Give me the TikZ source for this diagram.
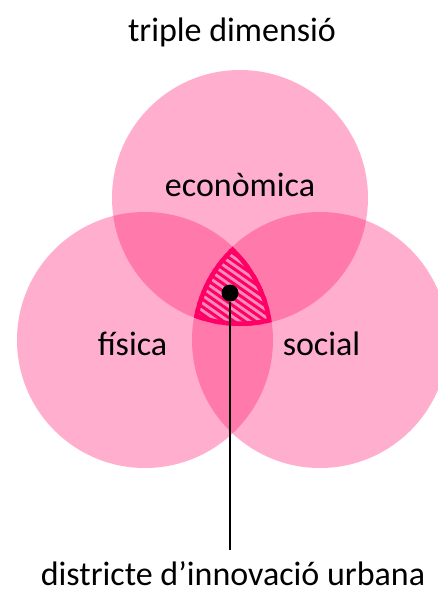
\documentclass[tikz,border=0pt]{standalone}
\usepackage{fontspec}
\setmainfont{Carlito}
\usepackage{xcolor}
\usetikzlibrary{calc, positioning}
\definecolor{vennPink}{RGB}{255,18,107}
\definecolor{deepPink}{RGB}{255,0,102}
\definecolor{stripePink}{RGB}{255,140,184}
\tikzset{
    dim/.style={circle, fill=vennPink, fill opacity=0.34, minimum size=256pt, inner sep=0pt},
    tag/.style={font=\fontsize{34}{40}\selectfont, inner sep=0pt, anchor=base},
    hub/.style={circle, fill=black, minimum size=17pt, inner sep=0pt},
    stem/.style={line width=1.6pt},
    stripe/.style={deepPink, line width=3pt},
    rim/.style={deepPink, line width=9pt}
}

\begin{document}
\begin{tikzpicture}[x=1pt, y=-1pt]
    \useasboundingbox (0,0) rectangle (438,591);

    \node[dim] (Eco) at (240,198) {};
    \node[dim] (Fis) at (145,340) {};
    \node[dim] (Soc) at (320,340) {};

    % common core of the three circles
    \begin{scope}
        \clip (Eco.center) circle (128pt);
        \clip (Fis.center) circle (128pt);
        \clip (Soc.center) circle (128pt);
        \fill[stripePink] (150,220) rectangle (320,340);
        \foreach \k in {0,...,26}
            \draw[stripe] (150,150+7.5*\k) -- ++(200,140);
        \draw[rim] (Eco.center) circle (128pt) (Fis.center) circle (128pt) (Soc.center) circle (128pt);
    \end{scope}

    \node[tag] (Title) at (232,42) {triple dimensió};
    \node[tag] (EcoTxt) at (240,196) {econòmica};
    \node[tag] (FisTxt) at (132.5,355) {física};
    \node[tag] (SocTxt) at (321.5,355) {social};
    \node[tag] (District) at (233,585) {districte d’innovació urbana};

    \node[hub] (Hub) at (230,293) {};
    \draw[stem] (Hub.south) -- ([yshift=11pt]District.north -| Hub);
\end{tikzpicture}
\end{document}
